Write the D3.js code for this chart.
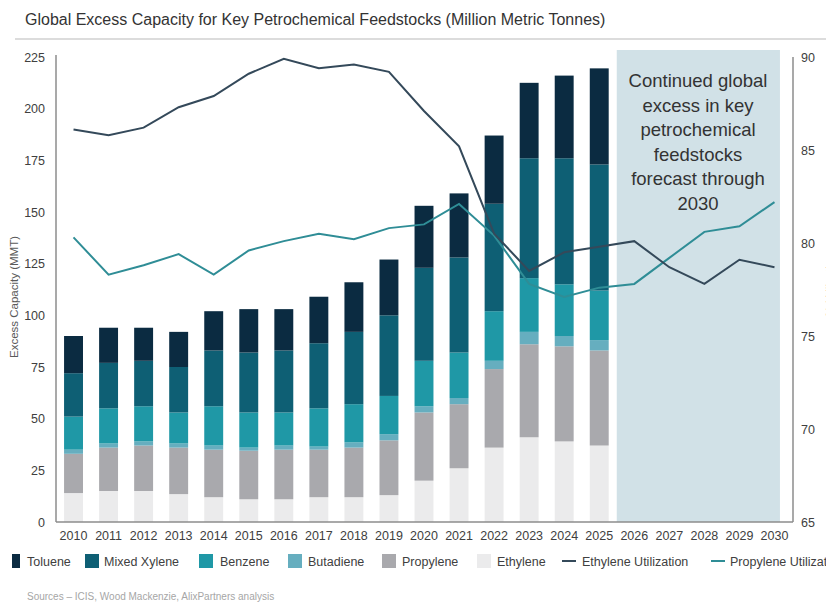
<!DOCTYPE html>
<html>
<head>
<meta charset="utf-8">
<script src="https://cdn.jsdelivr.net/npm/d3@7/dist/d3.min.js"></script>
<style>
body { margin: 0; background: #fff; }
svg { display: block; font-family: "Liberation Sans", Arial, sans-serif; }
</style>
</head>
<body>
<svg id="chart"></svg>
<script>
const width = 826;
const height = 605;

// categories
const years = ["2010", "2011", "2012", "2013", "2014", "2015", "2016", "2017", "2018", "2019",
    "2020", "2021", "2022", "2023", "2024", "2025", "2026", "2027", "2028", "2029", "2030"];
const barYears = years.slice(0, 16);
const forecastYears = ["2026", "2027", "2028", "2029", "2030"];

// stacked bars, MMT (bottom to top)
const ethylene    = [14, 15, 15, 13.5, 12, 11, 11, 12, 12, 13, 20, 26, 36, 41, 39, 37];
const propylene   = [19, 21, 22, 22.5, 23, 23.5, 24, 23, 24, 26.5, 33, 31, 38, 45, 46, 46];
const butadiene   = [2, 2, 2, 2, 2, 1.5, 2, 1.5, 2.5, 3, 3, 3, 4, 6, 5, 5];
const benzene     = [16, 17, 17, 15, 19, 17, 16, 18.5, 18.5, 18.5, 22, 22, 24, 26, 25, 24];
const mixedXylene = [21, 22, 22, 22, 27, 29, 30, 31.5, 35, 39, 45, 46, 52, 58, 61, 61];
const toluene     = [18, 17, 16, 17, 19, 21, 20, 22.5, 24, 27, 30, 31, 33, 36.5, 40, 46.5];

// utilization lines, % (right axis)
const ethyleneUtil  = [86.1, 85.8, 86.2, 87.3, 87.9, 89.1, 89.9, 89.4, 89.6, 89.2, 87.1,
    85.2, 80.5, 78.5, 79.5, 79.8, 80.1, 78.7, 77.8, 79.1, 78.7];
const propyleneUtil = [80.3, 78.3, 78.8, 79.4, 78.3, 79.6, 80.1, 80.5, 80.2, 80.8, 81.0,
    82.1, 80.4, 77.8, 77.1, 77.6, 77.8, 79.2, 80.6, 80.9, 82.2];

const leftTicks = [0, 25, 50, 75, 100, 125, 150, 175, 200, 225];
const rightTicks = [65, 70, 75, 80, 85, 90];

const noteLines = ["Continued global", "excess in key", "petrochemical", "feedstocks",
    "forecast through", "2030"];

const keys = ["Ethylene", "Propylene", "Butadiene", "Benzene", "Mixed Xylene", "Toluene"];
const colors = {
    "Ethylene": "#ebebec",
    "Propylene": "#a9a9ad",
    "Butadiene": "#66aebf",
    "Benzene": "#1f98a6",
    "Mixed Xylene": "#0e5f74",
    "Toluene": "#0b2b41"
};
const ethColor = "#34495a";
const proColor = "#2f8d96";

const table = barYears.map((yr, i) => ({
    year: yr,
    "Ethylene": ethylene[i],
    "Propylene": propylene[i],
    "Butadiene": butadiene[i],
    "Benzene": benzene[i],
    "Mixed Xylene": mixedXylene[i],
    "Toluene": toluene[i]
}));

const svg = d3.select("#chart")
    .attr("width", width)
    .attr("height", height);

const x = d3.scaleBand()
    .domain(years)
    .range([56, 792])
    .paddingInner(0.46)
    .paddingOuter(0.23);

const y = d3.scaleLinear().domain([0, 225]).range([522, 57]);
const y2 = d3.scaleLinear().domain([65, 90]).range([522, 57]);

// title
svg.append("text")
    .attr("x", 25)
    .attr("y", 25)
    .attr("font-size", "16px")
    .attr("fill", "#333")
    .text("Global Excess Capacity for Key Petrochemical Feedstocks (Million Metric Tonnes)");

svg.append("line")
    .attr("x1", 15).attr("x2", 826)
    .attr("y1", 39).attr("y2", 39)
    .attr("stroke", "#dcdcdc")
    .attr("stroke-width", 2);

// forecast shading
const gap = x.step() - x.bandwidth();
svg.append("rect")
    .attr("x", x(forecastYears[0]) - gap / 2)
    .attr("y", 50)
    .attr("width", x(forecastYears[forecastYears.length - 1]) + x.bandwidth() - 4 - (x(forecastYears[0]) - gap / 2))
    .attr("height", y(0) - 50)
    .attr("fill", "#d1e1e7");

// bars
const stacked = d3.stack().keys(keys)(table);

svg.append("g")
    .selectAll("g")
    .data(stacked)
    .join("g")
    .attr("fill", d => colors[d.key])
    .selectAll("rect")
    .data(d => d)
    .join("rect")
    .attr("x", d => x(d.data.year))
    .attr("y", d => y(d[1]))
    .attr("width", x.bandwidth())
    .attr("height", d => y(d[0]) - y(d[1]));

// lines
const line = d3.line()
    .x((d, i) => x(years[i]) + x.bandwidth() / 2)
    .y(d => y2(d));

svg.append("path")
    .datum(propyleneUtil)
    .attr("fill", "none")
    .attr("stroke", proColor)
    .attr("stroke-width", 2)
    .attr("d", line);

svg.append("path")
    .datum(ethyleneUtil)
    .attr("fill", "none")
    .attr("stroke", ethColor)
    .attr("stroke-width", 2)
    .attr("d", line);

// note text
svg.append("text")
    .attr("text-anchor", "middle")
    .attr("font-size", "18.5px")
    .attr("fill", "#333")
    .selectAll("tspan")
    .data(noteLines)
    .join("tspan")
    .attr("x", 698)
    .attr("y", (d, i) => 87 + i * 24.6)
    .text(d => d);

// axes
const axisColor = "#8c8c8c";

const gLeft = svg.append("g")
    .attr("transform", "translate(56,0)")
    .call(d3.axisLeft(y).tickValues(leftTicks).tickSize(0).tickPadding(11));

const gRight = svg.append("g")
    .attr("transform", "translate(793,0)")
    .call(d3.axisRight(y2).tickValues(rightTicks).tickSize(0).tickPadding(8));

const gBottom = svg.append("g")
    .attr("transform", "translate(0,522)")
    .call(d3.axisBottom(x).tickSize(0).tickPadding(9));

[gLeft, gRight, gBottom].forEach(g => {
    g.select(".domain").attr("stroke", axisColor).attr("stroke-width", 1.5);
    g.selectAll("text")
        .attr("font-size", "12.5px")
        .attr("font-family", "\"Liberation Sans\", Arial, sans-serif")
        .attr("fill", "#404040");
});
gLeft.select(".domain").attr("d", "M0,522V55");
gBottom.select(".domain").attr("d", "M56,0H793");
gRight.select(".domain").attr("d", "M0,522V57");

// axis titles
svg.append("text")
    .attr("transform", "translate(18,297) rotate(-90)")
    .attr("text-anchor", "middle")
    .attr("font-size", "11.5px")
    .attr("fill", "#595959")
    .text("Excess Capacity (MMT)");

svg.append("text")
    .attr("transform", "translate(834,285) rotate(-90)")
    .attr("text-anchor", "middle")
    .attr("font-size", "11.5px")
    .attr("fill", "#595959")
    .text("% Utilization");

// legend
const legendItems = [
    { name: "Toluene", type: "rect", x: 12, w: 8, tx: 27 },
    { name: "Mixed Xylene", type: "rect", x: 85, w: 14, tx: 104 },
    { name: "Benzene", type: "rect", x: 199, w: 14, tx: 220 },
    { name: "Butadiene", type: "rect", x: 288, w: 14, tx: 308 },
    { name: "Propylene", type: "rect", x: 382, w: 14, tx: 402 },
    { name: "Ethylene", type: "rect", x: 477, w: 14, tx: 497 },
    { name: "Ethylene Utilization", type: "line", x: 562, w: 14, tx: 582, c: ethColor },
    { name: "Propylene Utilization", type: "line", x: 711, w: 14, tx: 730, c: proColor }
];

const legend = svg.append("g");
const ly = 561;

legendItems.forEach(it => {
    if (it.type === "rect") {
        legend.append("rect")
            .attr("x", it.x).attr("y", ly - 7)
            .attr("width", it.w).attr("height", 14)
            .attr("fill", colors[it.name]);
    } else {
        legend.append("line")
            .attr("x1", it.x).attr("x2", it.x + it.w)
            .attr("y1", ly).attr("y2", ly)
            .attr("stroke", it.c)
            .attr("stroke-width", 2);
    }
    legend.append("text")
        .attr("x", it.tx)
        .attr("y", ly + 4.5)
        .attr("font-size", "12.5px")
        .attr("fill", "#404040")
        .text(it.name);
});

// source
svg.append("text")
    .attr("x", 27)
    .attr("y", 600)
    .attr("font-size", "10px")
    .attr("fill", "#a6a6a6")
    .text("Sources \u2013 ICIS, Wood Mackenzie, AlixPartners analysis");
</script>
</body>
</html>
